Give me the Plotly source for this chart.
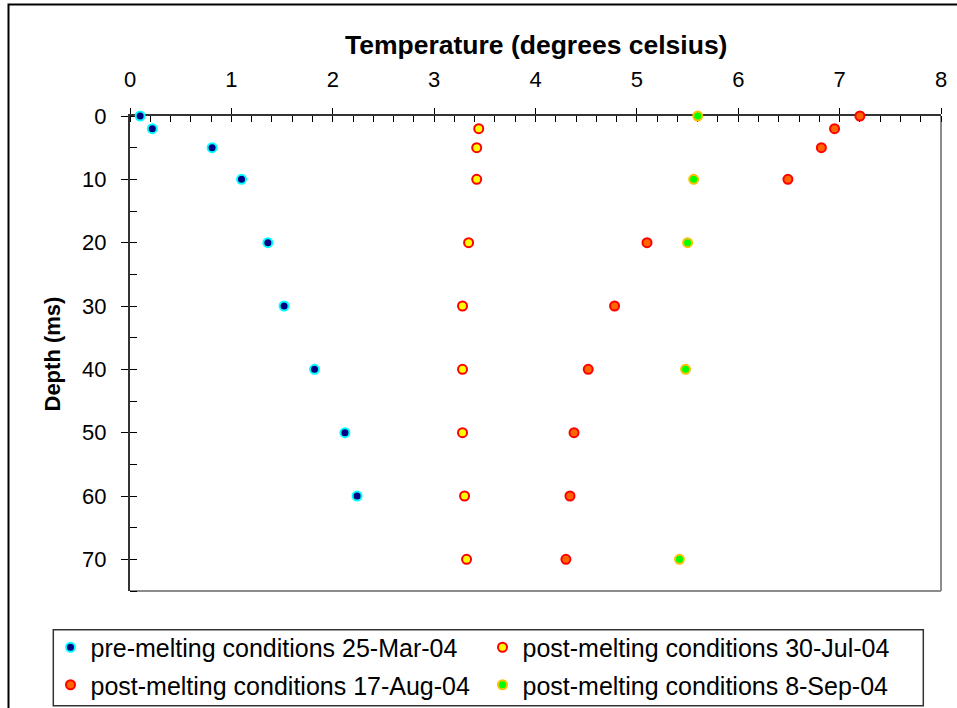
import plotly.graph_objects as go

# ---- data ----
depth_pre = [0, 2, 5, 10, 20, 30, 40, 50, 60]
temp_pre = [0.10, 0.22, 0.81, 1.10, 1.36, 1.52, 1.82, 2.12, 2.24]

depth_jul = [2, 5, 10, 20, 30, 40, 50, 60, 70]
temp_jul = [3.44, 3.42, 3.42, 3.34, 3.28, 3.28, 3.28, 3.30, 3.32]

depth_aug = [0, 2, 5, 10, 20, 30, 40, 50, 60, 70]
temp_aug = [7.20, 6.95, 6.82, 6.49, 5.10, 4.78, 4.52, 4.38, 4.34, 4.30]

depth_sep = [0, 10, 20, 40, 70]
temp_sep = [5.60, 5.56, 5.50, 5.48, 5.42]

names = [
    "pre-melting conditions 25-Mar-04",
    "post-melting conditions 30-Jul-04",
    "post-melting conditions 17-Aug-04",
    "post-melting conditions 8-Sep-04",
]
x_ticks = [0, 1, 2, 3, 4, 5, 6, 7, 8]
y_ticks = [0, 10, 20, 30, 40, 50, 60, 70]

FONT = "Liberation Sans, Arial, sans-serif"

# plot-area geometry (pixels) used only for paper-coordinate conversion
W, H = 957, 708
ML, MR, MT, MB = 130, 16, 116, 117
PW = W - ML - MR
PH = H - MT - MB


def px(x):
    return (x - ML) / PW


def py(y):
    return (H - MB - y) / PH


fig = go.Figure()

series = [
    (temp_pre, depth_pre, "#000080", "#00FFFF", "legend"),
    (temp_jul, depth_jul, "#FFFF00", "#FF0000", "legend"),
    (temp_aug, depth_aug, "#FF6600", "#FF0000", "legend2"),
    (temp_sep, depth_sep, "#00FF00", "#FFC000", "legend2"),
]
for (xs, ys, fill, edge, lg), nm in zip(series, names):
    fig.add_trace(go.Scatter(
        x=xs, y=ys, mode="markers", name=nm, legend=lg,
        cliponaxis=False,
        marker=dict(symbol="circle", size=9, color=fill,
                    line=dict(color=edge, width=2)),
    ))

tickfont = dict(family=FONT, size=22, color="black")
legfont = dict(family=FONT, size=25, color="black")

fig.update_layout(
    width=W, height=H,
    margin=dict(l=ML, r=MR, t=MT, b=MB, autoexpand=False),
    paper_bgcolor="white",
    plot_bgcolor="white",
    font=dict(family=FONT, color="black"),
    showlegend=True,
    xaxis=dict(
        side="top", range=[0, 8], tickvals=x_ticks,
        ticks="outside", ticklen=6, tickwidth=1, tickcolor="black",
        minor=dict(dtick=0.2, ticks="inside", ticklen=6, tickcolor="black", tickwidth=1),
        showline=True, linecolor="#333333", linewidth=2,
        showgrid=False, zeroline=False, tickfont=tickfont,
        ticklabelstandoff=12, layer="below traces",
    ),
    yaxis=dict(
        range=[75, 0], tickvals=y_ticks,
        ticks="outside", ticklen=7, tickwidth=1, tickcolor="black",
        minor=dict(dtick=5, ticks="inside", ticklen=7, tickcolor="black", tickwidth=1),
        showline=True, linecolor="#333333", linewidth=2,
        showgrid=False, zeroline=False, tickfont=tickfont,
        ticklabelstandoff=10, layer="below traces",
    ),
    xaxis2=dict(
        overlaying="x", side="top", range=[0, 8], tickvals=x_ticks,
        ticks="inside", ticklen=6, tickcolor="black", showticklabels=False,
        showline=False, showgrid=False, zeroline=False, layer="below traces",
    ),
    yaxis2=dict(
        overlaying="y", side="left", range=[75, 0], tickvals=y_ticks,
        ticks="inside", ticklen=7, tickcolor="black", showticklabels=False,
        showline=False, showgrid=False, zeroline=False, layer="below traces",
    ),
    legend=dict(
        orientation="h", x=px(50.5), xanchor="left", y=py(624.5), yanchor="top",
        entrywidth=387, entrywidthmode="pixels", itemwidth=30,
        bgcolor="rgba(0,0,0,0)", borderwidth=0, font=legfont,
    ),
    legend2=dict(
        orientation="h", x=px(50.5), xanchor="left", y=py(662), yanchor="top",
        entrywidth=387, entrywidthmode="pixels", itemwidth=30,
        bgcolor="rgba(0,0,0,0)", borderwidth=0, font=legfont,
    ),
    annotations=[
        dict(text="<b>Temperature (degrees celsius)</b>", xref="paper", yref="paper",
             x=px(535.5), y=py(44.5), xanchor="center", yanchor="middle",
             showarrow=False, font=dict(family=FONT, size=26.5, color="black")),
        dict(text="<b>Depth (ms)</b>", xref="paper", yref="paper",
             x=px(51.5), y=py(354), xanchor="center", yanchor="middle", textangle=-90,
             showarrow=False, font=dict(family=FONT, size=22, color="black")),
    ],
    shapes=[
        # outer chart frame (partly beyond the visible page)
        dict(type="rect", xref="paper", yref="paper",
             x0=px(8.5), x1=px(975), y0=py(725), y1=py(4.5),
             line=dict(color="black", width=2), layer="below"),
        # plot-area right and bottom borders
        dict(type="line", xref="paper", yref="paper", x0=1, x1=1, y0=0, y1=1,
             line=dict(color="#8c8c8c", width=2), layer="below"),
        dict(type="line", xref="paper", yref="paper", x0=0, x1=1, y0=0, y1=0,
             line=dict(color="#8c8c8c", width=2), layer="below"),
        # legend box
        dict(type="rect", xref="paper", yref="paper",
             x0=px(53.3), x1=px(923.3), y0=py(705.7), y1=py(629.7),
             line=dict(color="#333333", width=1.5), layer="below"),
    ],
)

fig.write_html("out.html")
